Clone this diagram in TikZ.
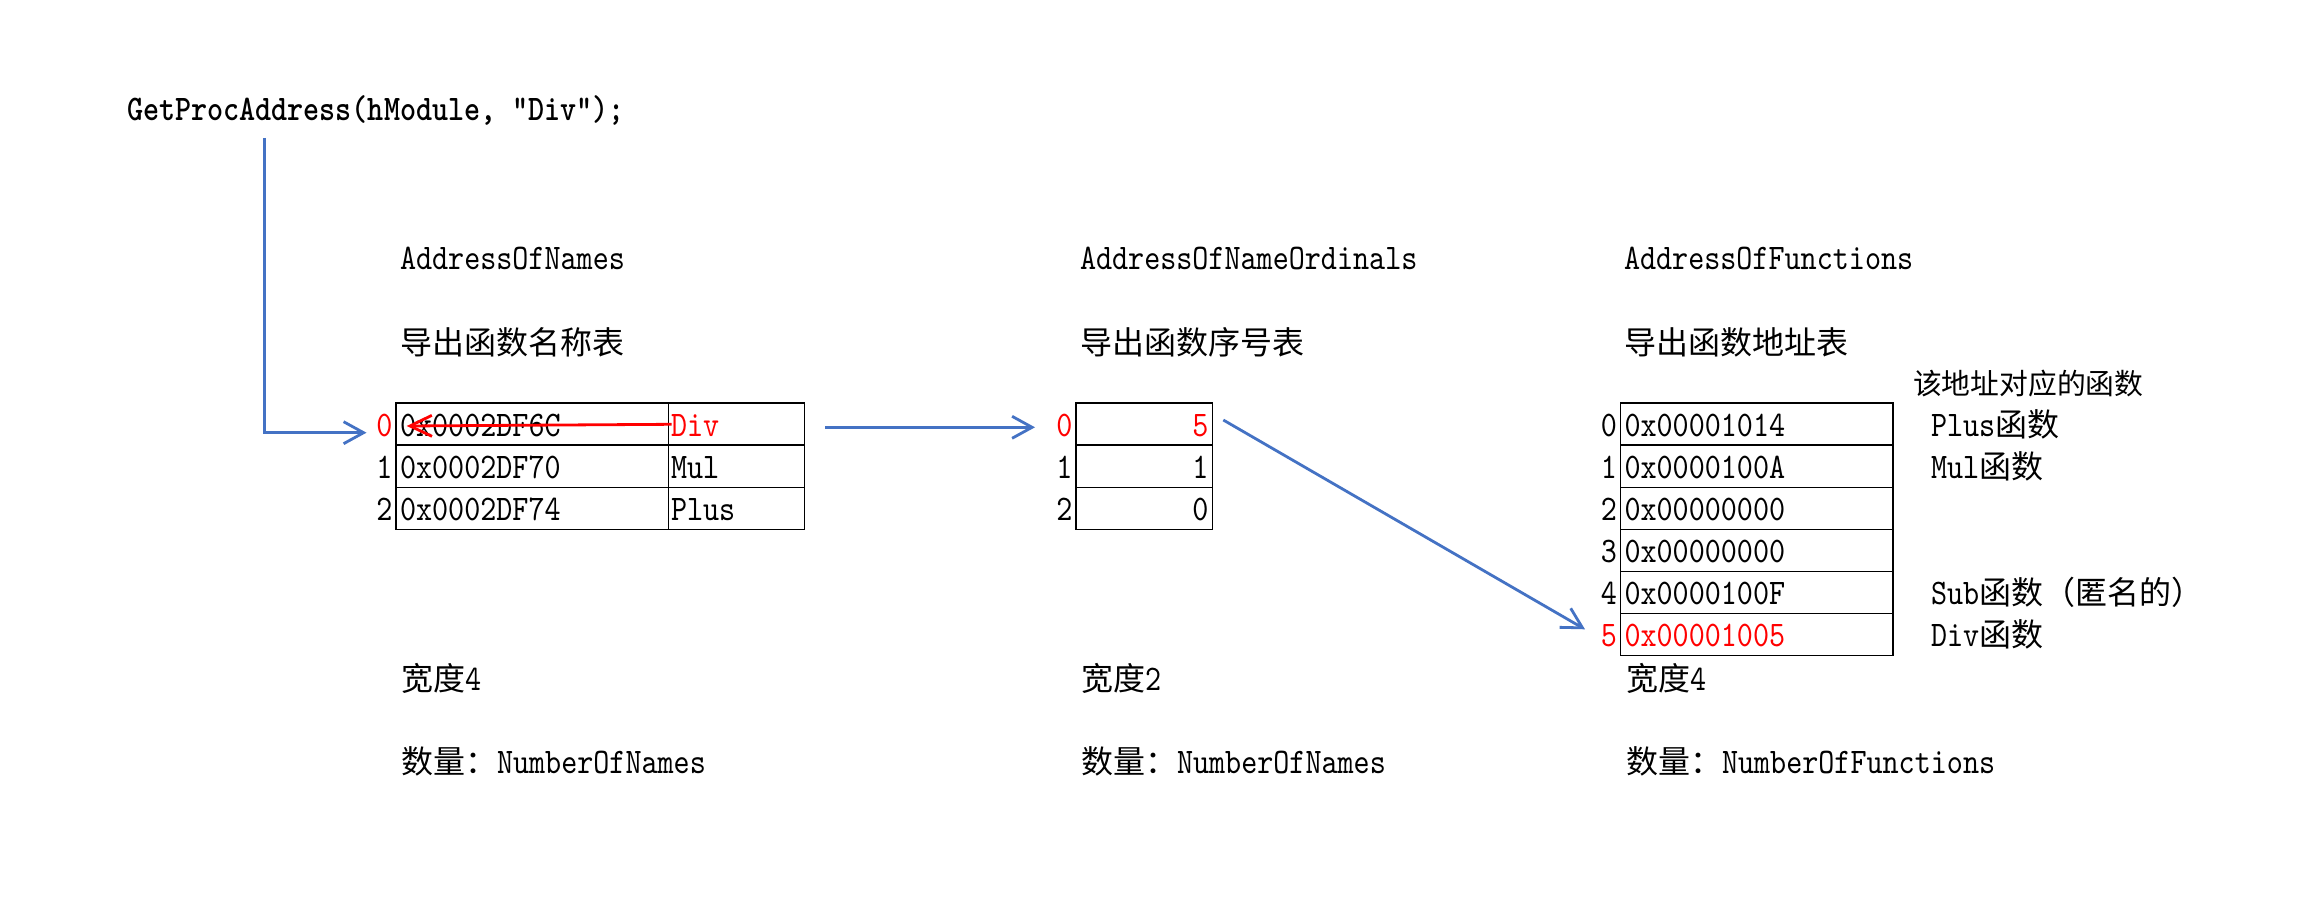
\documentclass[tikz,border=0pt]{standalone}
\usepackage{fontspec}
\usetikzlibrary{arrows.meta}
\newfontfamily\latf{lmmono10-regular}[Extension=.otf,FakeStretch=0.85]
\newfontfamily\latb{lmmonolt10-bold}[Extension=.otf,FakeStretch=0.85]
\newfontfamily\cjk{Noto Sans CJK SC}
\newcommand\zh[1]{{\cjk\fontsize{16}{18}\selectfont#1}}
\definecolor{arrblue}{HTML}{4472C4}
\definecolor{myred}{HTML}{FF0000}
\begin{document}
\begin{tikzpicture}[x=0.5pt,y=-0.5pt,
  txt/.style={inner sep=0pt,outer sep=0pt,anchor=base west,font=\fontsize{18}{20}\selectfont\latf},
  idx/.style={inner sep=0pt,outer sep=0pt,anchor=base east,font=\fontsize{18}{20}\selectfont\latf},
  cell/.style={draw=black,line width=0.8pt,inner sep=0pt,outer sep=0pt,minimum height=21pt},
  hot/.style={text=myred},
  bluearrow/.style={draw=arrblue,line width=1.4pt,-{Straight Barb[length=10pt,width=11pt,line width=1.4pt]}},
  redarrow/.style={draw=myred,line width=1.4pt,-{Straight Barb[length=11pt,width=10.5pt,line width=1.4pt]}}
]
\useasboundingbox[fill=white] (0,0) rectangle (2323,914);

% call
\node[inner sep=0pt,outer sep=0pt,anchor=base west,font=\fontsize{18}{20}\selectfont\latb] (call) at (127,121) {GetProcAddress(hModule, “Div”);};

% titles
\node[txt] (h1) at (400,270) {AddressOfNames};
\node[txt] (s1) at (400,355) {\zh{导出函数名称表}};
\node[txt] (h2) at (1080,270) {AddressOfNameOrdinals};
\node[txt] (s2) at (1080,355) {\zh{导出函数序号表}};
\node[txt] (h3) at (1624,270) {AddressOfFunctions};
\node[txt] (s3) at (1624,355) {\zh{导出函数地址表}};

% table 1
\node[cell,minimum width=136.15pt] (t1a0) at (532.15,424.3) {};
\node[cell,minimum width=136.15pt] (t1a1) at (532.15,466.3) {};
\node[cell,minimum width=136.15pt] (t1a2) at (532.15,508.3) {};
\node[cell,minimum width=68pt] (t1b0) at (736.3,424.3) {};
\node[cell,minimum width=68pt] (t1b1) at (736.3,466.3) {};
\node[cell,minimum width=68pt] (t1b2) at (736.3,508.3) {};
\node[idx,hot] (i10) at (392.5,436.7) {0};
\node[idx] (i11) at (392.5,478.7) {1};
\node[idx] (i12) at (392.5,520.7) {2};
\node[txt] (a10) at (400,436.7) {0x0002DF6C};
\node[txt] (a11) at (400,478.7) {0x0002DF70};
\node[txt] (a12) at (400,520.7) {0x0002DF74};
\node[txt,hot] (n10) at (671,436.7) {Div};
\node[txt] (n11) at (671,478.7) {Mul};
\node[txt] (n12) at (671,520.7) {Plus};

% table 2
\node[cell,minimum width=68.15pt] (t20) at (1144.15,424.3) {};
\node[cell,minimum width=68.15pt] (t21) at (1144.15,466.3) {};
\node[cell,minimum width=68.15pt] (t22) at (1144.15,508.3) {};
\node[idx,hot] (i20) at (1072.5,436.7) {0};
\node[idx] (i21) at (1072.5,478.7) {1};
\node[idx] (i22) at (1072.5,520.7) {2};
\node[idx,hot] (v20) at (1208.5,436.7) {5};
\node[idx] (v21) at (1208.5,478.7) {1};
\node[idx] (v22) at (1208.5,520.7) {0};

% table 3
\foreach \r in {0,...,5}{
  \node[cell,minimum width=136.15pt] (t3\r) at (1756.55,424.3+42*\r) {};
}
\node[idx] (i30) at (1617,436.7) {0};
\node[idx] (i31) at (1617,478.7) {1};
\node[idx] (i32) at (1617,520.7) {2};
\node[idx] (i33) at (1617,562.7) {3};
\node[idx] (i34) at (1617,604.7) {4};
\node[idx,hot] (i35) at (1617,646.7) {5};
\node[txt] (f30) at (1624.5,436.7) {0x00001014};
\node[txt] (f31) at (1624.5,478.7) {0x0000100A};
\node[txt] (f32) at (1624.5,520.7) {0x00000000};
\node[txt] (f33) at (1624.5,562.7) {0x00000000};
\node[txt] (f34) at (1624.5,604.7) {0x0000100F};
\node[txt,hot] (f35) at (1624.5,646.7) {0x00001005};

% right labels
\node[txt] (lt) at (1913,394) {{\cjk\fontsize{14.4}{16}\selectfont 该地址对应的函数}};
\node[txt] (l0) at (1931,436.7) {Plus\zh{函数}};
\node[txt] (l1) at (1931,478.7) {Mul\zh{函数}};
\node[txt] (l4) at (1931,604.7) {Sub\zh{函数（匿名的）}};
\node[txt] (l5) at (1931,646.7) {Div\zh{函数}};

% bottom notes
\node[txt] (w1) at (401,690) {\zh{宽度}4};
\node[txt] (c1) at (401,773) {\zh{数量：}NumberOfNames};
\node[txt] (w2) at (1081,690) {\zh{宽度}2};
\node[txt] (c2) at (1081,773) {\zh{数量：}NumberOfNames};
\node[txt] (w3) at (1626,690) {\zh{宽度}4};
\node[txt] (c3) at (1626,773) {\zh{数量：}NumberOfFunctions};

% connectors
\coordinate (b1s) at (264.3,138);
\coordinate (b1e) at (366.5,432.7);
\draw[bluearrow] (b1s) |- (b1e);
\coordinate (b2s) at (825,427.3);
\coordinate (b2e) at (1035,427.3);
\draw[bluearrow] (b2s) -- (b2e);
\coordinate (b3s) at (1223.3,420);
\coordinate (b3e) at (1585,629.3);
\draw[bluearrow] (b3s) -- (b3e);
\coordinate (r1s) at (671.7,424.3);
\coordinate (r1e) at (406.7,426);
\draw[redarrow] (r1s) -- (r1e);
\end{tikzpicture}
\end{document}
